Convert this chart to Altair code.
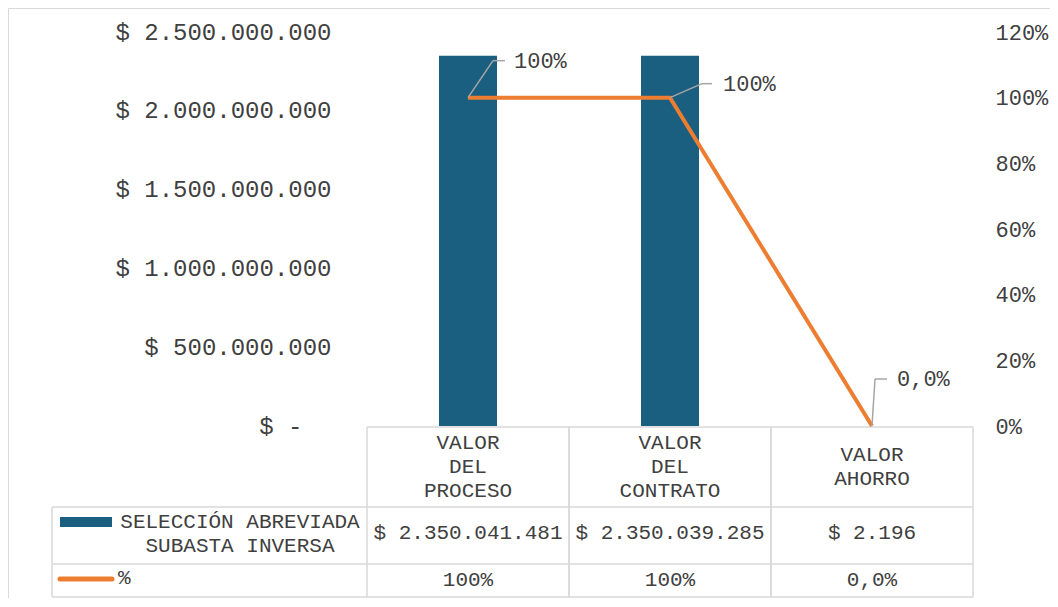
import altair as alt
import pandas as pd

# ---------------- data ----------------
categories = ["VALOR DEL PROCESO", "VALOR DEL CONTRATO", "VALOR AHORRO"]
header_labels = ["VALOR\nDEL\nPROCESO", "VALOR\nDEL\nCONTRATO", "VALOR\nAHORRO"]
valores = [2350041481, 2350039285, 2196]
porcentajes = [1.0, 1.0, 0.0]
porcentaje_labels = ["100%", "100%", "0,0%"]
series_names = ["SELECCIÓN ABREVIADA\nSUBASTA INVERSA", "%"]
left_ticks = [0, 500000000, 1000000000, 1500000000, 2000000000, 2500000000]
right_ticks = [0, 0.2, 0.4, 0.6, 0.8, 1.0, 1.2]

# ---------------- style ----------------
BAR = "#1a5e80"
ORANGE = "#ED7D31"
GRID = "#d9d9d9"
LEAD = "#a6a6a6"
TXT = "#404040"
FONT = "Liberation Mono"
W, H = 606, 394
LH = 24  # table line height

df = pd.DataFrame({
    "cat": categories,
    "idx": list(range(len(categories))),
    "header": header_labels,
    "valor": valores,
    "pct": porcentajes,
    "pct_label": porcentaje_labels,
})
one = pd.DataFrame({"k": [0]})

base = alt.Chart(df).transform_calculate(
    center="datum.idx + 0.5", right="datum.idx + 1",
    nlines="length(split(datum.header, '\\n'))")
xs = alt.Scale(domain=[0, len(categories)], nice=False, zero=False, padding=0)
X = alt.X("center:Q", scale=xs, axis=None)

Yv = alt.Y("valor:Q", scale=alt.Scale(domain=[0, 2500000000], nice=False),
           axis=alt.Axis(orient="left", values=left_ticks, format="$,.0f",
                         labelExpr="datum.value == 0 ? '$ -' : datum.label",
                         labelPadding={"condition": {"test": "datum.value == 0", "value": 65},
                                       "value": 36},
                         grid=False, domain=False, ticks=False, tickSize=0,
                         labelLimit=0, labelFont=FONT, labelFontSize=24, labelColor=TXT,
                         title=None))
Yp = alt.Y("pct:Q", scale=alt.Scale(domain=[0, 1.2], nice=False),
           axis=alt.Axis(orient="right", values=right_ticks, format=".0%",
                         grid=False, domain=False, ticks=False, tickSize=0, labelPadding=22,
                         labelAlign="left", labelLimit=0, labelFont=FONT, labelFontSize=22,
                         labelColor=TXT, title=None))

# frame
frame = alt.Chart(one).mark_rect(filled=False, stroke=GRID, strokeWidth=1).encode(
    x=alt.value(-358.5), x2=alt.value(720), y=alt.value(-23.5), y2=alt.value(640))

# table grid
vl = base.mark_rule(color=GRID, strokeWidth=1.5).encode(
    x=alt.X("idx:Q", scale=xs, axis=None), y=alt.value(395), y2=alt.value(565))
vr = base.mark_rule(color=GRID, strokeWidth=1.5).encode(
    x=alt.X("right:Q", scale=xs, axis=None), y=alt.value(395), y2=alt.value(565))
vleg = alt.Chart(one).mark_rule(color=GRID, strokeWidth=1.5).encode(
    x=alt.value(-315), y=alt.value(475), y2=alt.value(565))
htop = alt.Chart(one).mark_rule(color=GRID, strokeWidth=1.5).encode(
    x=alt.value(0), x2=alt.value(W), y=alt.value(395))
hrows = [alt.Chart(one).mark_rule(color=GRID, strokeWidth=1.5).encode(
    x=alt.value(-315), x2=alt.value(W), y=alt.value(yy)) for yy in (475, 532, 565)]

txt_kw = dict(font=FONT, fontSize=21, color=TXT, baseline="middle")
header_layers = []
for n in (2, 3):
    header_layers.append(
        base.transform_filter(f"datum.nlines == {n}").mark_text(
            lineBreak="\n", lineHeight=LH, align="center", **txt_kw).encode(
            x=X, y=alt.value(435 - (n - 1) * LH / 2), text="header:N"))
row_val = base.mark_text(align="center", **txt_kw).encode(
    x=X, y=alt.value(501), text=alt.Text("valor:Q", format="$,.0f"))
row_pct = base.mark_text(align="center", **txt_kw).encode(
    x=X, y=alt.value(548), text="pct_label:N")

# legend cells
sw_bar = alt.Chart(one).mark_rect(color=BAR).encode(
    x=alt.value(-307), x2=alt.value(-255), y=alt.value(485), y2=alt.value(495))
sw_line = alt.Chart(one).mark_rule(color=ORANGE, strokeWidth=5, strokeCap="round").encode(
    x=alt.value(-307), x2=alt.value(-255), y=alt.value(547))
leg1 = alt.Chart(one).mark_text(lineBreak="\n", lineHeight=LH, align="center", **txt_kw).encode(
    x=alt.value(-127), y=alt.value(490), text=alt.value(series_names[0]))
leg2 = alt.Chart(one).mark_text(align="left", **txt_kw).encode(
    x=alt.value(-249), y=alt.value(546), text=alt.value(series_names[1]))

# bars
bars = base.mark_bar(color=BAR, size=58).encode(x=X, y=Yv)

# percentage line with callout labels
line = base.mark_line(color=ORANGE, strokeWidth=4).encode(x=X, y=Yp)
callouts = [((25, -37), (37, -37), 46), ((32, -14), (42, -14), 53), ((3, -47), (15, -47), 25)]
pct_layers = [line]
for i, ((dx1, dy1), (dx2, dy2), dt) in enumerate(callouts):
    sub = base.transform_filter(f"datum.idx == {i}")
    pct_layers.append(sub.mark_rule(color=LEAD, strokeWidth=1.5, x2Offset=dx1, y2Offset=dy1).encode(
        x=X, y=Yp, x2="center:Q", y2="pct:Q"))
    pct_layers.append(sub.mark_rule(color=LEAD, strokeWidth=1.5, xOffset=dx1, yOffset=dy1,
                                    x2Offset=dx2, y2Offset=dy2).encode(
        x=X, y=Yp, x2="center:Q", y2="pct:Q"))
    pct_layers.append(sub.mark_text(font=FONT, fontSize=22, color=TXT, align="left",
                                    baseline="middle", dx=dt, dy=dy1).encode(
        x=X, y=Yp, text="pct_label:N"))
pct_layer = alt.layer(*pct_layers)

chart = alt.layer(
    frame, vl, vr, vleg, htop, *hrows, *header_layers, row_val, row_pct,
    sw_bar, sw_line, leg1, leg2, bars, pct_layer
).resolve_scale(y="independent").properties(
    width=W, height=H,
    padding={"left": 359, "top": 24, "right": 77, "bottom": 172},
    autosize=alt.AutoSizeParams(type="none"),
).configure(
    locale={"number": {"decimal": ",", "thousands": ".", "grouping": [3], "currency": ["$ ", ""]}},
    view={"stroke": "transparent"},
)

chart.save("out.html", embed_options={"renderer": "svg", "actions": False})
